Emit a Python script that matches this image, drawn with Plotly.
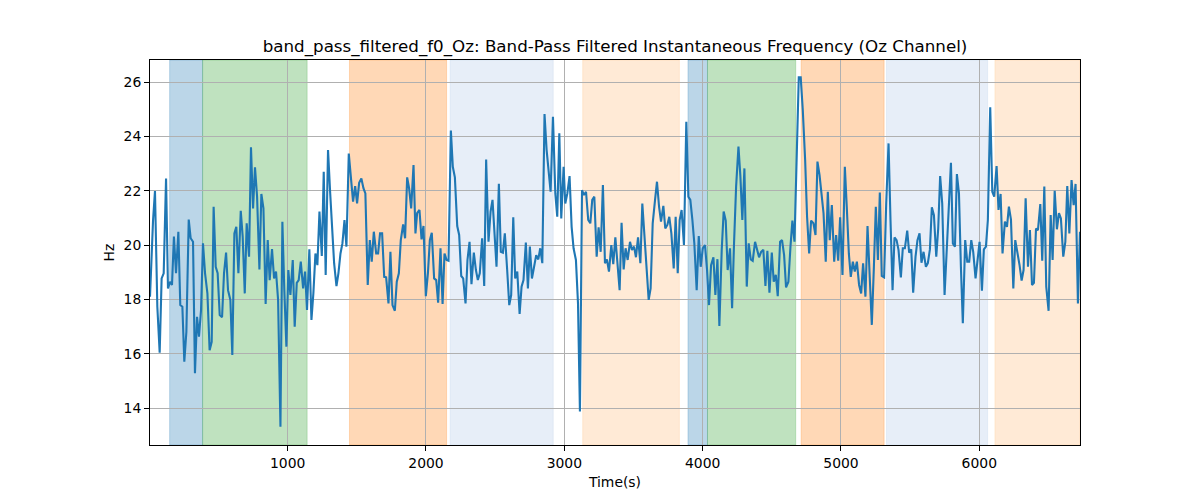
import plotly.graph_objects as go

# ---------------- data ----------------
time_s = [
    5, 27, 41, 58, 75, 89, 104, 121, 135, 150,
    164, 178, 193, 210, 224, 239, 253, 268, 285, 299,
    316, 330, 345, 359, 374, 388, 403, 420, 436, 451,
    465, 480, 494, 509, 526, 540, 555, 569, 586, 600,
    615, 629, 644, 661, 675, 690, 704, 721, 735, 750,
    764, 779, 796, 810, 825, 841, 856, 870, 887, 902,
    916, 931, 948, 962,
    976, 991, 1005, 1020, 1037, 1051, 1066, 1080, 1095, 1112,
    1126, 1140, 1157, 1172, 1186, 1201, 1215, 1230, 1247, 1261,
    1275, 1292, 1307, 1321, 1336, 1353, 1367, 1382, 1396, 1411,
    1425, 1442, 1456, 1473, 1488, 1502, 1517, 1533, 1548, 1562,
    1579, 1594, 1608, 1623, 1640, 1654, 1668, 1683, 1698, 1712,
    1729, 1743, 1758, 1775, 1789, 1804, 1818, 1835, 1849, 1864,
    1878, 1893, 1910, 1924,
    1936, 1953, 1968, 1982, 1999, 2014, 2028, 2042, 2059, 2074,
    2088, 2105, 2120, 2134, 2149, 2163, 2180, 2194, 2209, 2226,
    2240, 2255, 2269, 2286, 2300, 2315, 2329, 2346, 2361, 2375,
    2389, 2406, 2421, 2435, 2452, 2467, 2481, 2496, 2510, 2527,
    2541, 2556, 2570, 2587, 2602, 2616, 2631, 2645, 2660, 2677,
    2691, 2705, 2722, 2737, 2751, 2766, 2783, 2797, 2812, 2826,
    2841, 2857, 2872, 2886, 2901,
    2918, 2935, 2949, 2964, 2978, 2995, 3007, 3022, 3038, 3053,
    3067, 3084, 3099, 3113, 3128, 3142, 3157, 3173, 3188, 3202,
    3217, 3234, 3248, 3263, 3279, 3294, 3308, 3323, 3340, 3354,
    3369, 3383, 3400, 3414, 3429, 3443, 3458, 3475, 3489, 3504,
    3518, 3533, 3550, 3564, 3578, 3595, 3610, 3624, 3639, 3656,
    3670, 3685, 3699, 3716, 3730, 3745, 3759, 3774, 3791, 3805,
    3820, 3834, 3848,
    3865, 3882, 3897, 3911, 3926, 3940, 3957, 3972, 3986, 4001,
    4017, 4032, 4046, 4061, 4078, 4092, 4107, 4121, 4138, 4152,
    4167, 4181, 4198, 4213, 4227, 4242, 4259, 4273, 4287, 4302,
    4319, 4333, 4348, 4362, 4379, 4394, 4408, 4423, 4439, 4454,
    4468, 4483, 4500, 4514, 4529, 4543, 4560, 4574, 4589, 4603,
    4620, 4635, 4649, 4664, 4681, 4695, 4709, 4724, 4741, 4755,
    4770, 4784, 4801, 4816,
    4830, 4845, 4859, 4874, 4890, 4905, 4919, 4934, 4951, 4965,
    4980, 4994, 5011, 5028, 5042, 5057, 5071, 5086, 5100, 5115,
    5131, 5146, 5160, 5177, 5192, 5206, 5223, 5238, 5252, 5267,
    5281, 5295, 5312, 5327, 5344, 5358, 5373, 5387, 5402, 5416,
    5433, 5447, 5462, 5479, 5493, 5508, 5522, 5539, 5553, 5568,
    5582, 5597, 5614, 5628, 5643, 5657, 5672, 5689, 5703, 5717,
    5732, 5749, 5766,
    5795, 5809, 5824, 5838, 5853, 5867, 5881, 5898, 5913, 5927,
    5942, 5956, 5973, 5988, 6002, 6019, 6033, 6048, 6062, 6079,
    6094, 6108, 6125, 6139, 6154, 6168, 6185, 6200, 6214, 6229,
    6246, 6260, 6274, 6291, 6306, 6320, 6335, 6352, 6366, 6381,
    6395, 6410, 6424, 6441, 6455, 6470, 6484, 6501, 6516, 6530,
    6545, 6561, 6576, 6590, 6607, 6622, 6636, 6651, 6667, 6682,
    6696, 6713, 6728,
]

freq_hz = [
    18.10, 20.90, 21.99, 17.73, 16.04, 18.77, 18.96, 22.45, 18.40, 18.65,
    18.53, 20.31, 18.96, 20.49, 17.79, 17.73, 15.71, 16.81, 20.94, 20.25,
    20.12, 15.28, 17.36, 16.63, 17.61, 20.06, 18.96, 18.22, 16.13, 16.44,
    21.41, 19.20, 18.96, 17.42, 17.34, 18.96, 19.72, 18.34, 17.98, 15.95,
    20.43, 20.67, 18.96, 21.26, 20.31, 18.22, 20.80, 19.57, 23.60, 21.35,
    22.86, 21.78, 19.10, 21.88, 21.35, 17.83, 20.18, 18.71, 19.85, 18.77,
    19.02, 17.98, 13.31, 20.86,
    18.34, 16.26, 19.08, 18.16, 19.45, 16.99, 18.61, 18.71, 19.39, 18.40,
    19.02, 17.61, 19.84, 17.24, 18.22, 19.69, 19.26, 21.23, 19.60, 22.70,
    18.90, 23.50, 21.96, 20.80, 19.33, 18.49, 18.96, 19.69, 20.06, 20.92,
    19.94, 23.37, 22.52, 21.60, 22.17, 21.53, 22.29, 22.45, 22.09, 21.90,
    18.53, 20.18, 19.39, 20.49, 19.69, 19.69, 20.43, 20.43, 18.83, 18.81,
    17.85, 19.75, 17.79, 17.58, 18.65, 18.96, 20.18, 20.76, 20.25, 22.49,
    22.09, 21.35, 22.94, 20.43,
    21.17, 21.29, 20.21, 20.70, 18.12, 18.96, 20.18, 20.45, 18.77, 18.71,
    17.88, 19.88, 17.83, 19.69, 19.45, 19.42, 24.21, 22.88, 22.49, 20.70,
    20.37, 18.86, 18.77, 17.85, 19.45, 20.12, 18.56, 19.72, 19.08, 18.71,
    18.96, 20.25, 18.49, 23.15, 20.12, 21.23, 21.66, 20.43, 19.20, 22.25,
    19.75, 19.72, 20.43, 19.08, 17.79, 18.16, 21.02, 18.77, 19.02, 17.46,
    18.47, 18.71, 20.09, 18.40, 19.94, 18.77, 19.30, 19.63, 19.47, 19.88,
    19.33, 24.82, 23.50, 22.70, 21.96,
    24.72, 21.90, 21.04, 24.11, 20.98, 22.88, 21.53, 21.90, 22.54, 20.67,
    19.88, 19.45, 17.85, 13.87, 22.02, 21.84, 21.96, 20.92, 20.80, 21.66,
    21.78, 19.57, 20.65, 19.75, 22.21, 19.33, 19.47, 19.02, 20.00, 19.30,
    20.28, 19.33, 18.34, 20.82, 19.10, 19.88, 19.45, 20.12, 19.82, 19.94,
    19.55, 20.28, 19.33, 21.53, 20.43, 19.14, 17.98, 18.40, 20.80, 21.66,
    22.33, 21.41, 20.86, 21.44, 20.61, 20.74, 21.04, 20.43, 19.14, 21.04,
    18.96, 20.92, 21.29,
    20.00, 24.54, 21.78, 21.66, 20.92, 20.06, 18.34, 20.33, 19.20, 19.88,
    20.00, 19.08, 17.79, 19.26, 19.55, 18.16, 19.48, 17.02, 19.82, 21.23,
    20.90, 19.08, 19.88, 17.67, 20.06, 22.15, 23.62, 22.52, 20.92, 22.82,
    18.47, 20.06, 19.47, 19.42, 20.12, 19.84, 19.55, 19.75, 19.82, 18.49,
    19.79, 18.25, 19.72, 18.65, 18.90, 18.12, 20.12, 20.18, 19.63, 18.44,
    18.65, 19.94, 20.90, 20.12, 23.13, 26.17, 26.17, 24.97, 23.13, 21.04,
    19.69, 20.90, 20.80, 20.37,
    23.07, 22.58, 21.90, 21.17, 19.39, 21.96, 20.18, 21.47, 19.39, 20.37,
    19.42, 21.02, 18.90, 22.88, 21.41, 19.69, 18.83, 19.39, 19.02, 19.39,
    18.53, 18.22, 19.33, 18.10, 20.70, 18.96, 17.06, 19.20, 21.41, 19.45,
    21.93, 18.86, 18.81, 21.53, 23.74, 20.92, 18.34, 20.28, 20.18, 19.82,
    18.81, 19.88, 19.88, 20.53, 19.72, 19.84, 18.25, 19.57, 20.18, 20.43,
    19.35, 19.75, 19.20, 19.33, 19.84, 21.39, 21.10, 19.57, 20.61, 22.54,
    21.53, 18.16, 19.90,
    23.03, 20.06, 19.94, 22.61, 21.90, 19.20, 17.12, 20.18, 19.39, 19.39,
    20.18, 19.75, 18.77, 19.47, 20.12, 18.32, 19.84, 19.94, 20.92, 25.07,
    21.96, 21.78, 22.91, 21.29, 21.88, 19.69, 20.86, 20.67, 21.41, 20.94,
    18.40, 20.18, 19.82, 19.26, 18.69, 19.08, 21.72, 19.20, 20.55, 18.53,
    18.61, 20.61, 20.55, 21.51, 19.42, 22.15, 18.47, 17.58, 21.10, 19.45,
    22.00, 20.58, 21.17, 20.98, 19.57, 20.12, 22.17, 20.43, 22.39, 21.47,
    22.25, 17.85, 20.49,
]

assert len(time_s) == len(freq_hz), (len(time_s), len(freq_hz))

# shaded phases
region_start = [147, 385, 1447, 2175, 3133, 3894, 4035, 4712, 5329, 6113]
region_end = [385, 1141, 2149, 2920, 3832, 4035, 4673, 5312, 6060, 6728]
region_color = [
    "rgba(31,119,180,0.3)", "rgba(44,160,44,0.3)", "rgba(255,127,14,0.3)",
    "rgba(174,199,232,0.3)", "rgba(255,187,120,0.3)",
    "rgba(31,119,180,0.3)", "rgba(44,160,44,0.3)", "rgba(255,127,14,0.3)",
    "rgba(174,199,232,0.3)", "rgba(255,187,120,0.3)",
]

x_ticks = [1000, 2000, 3000, 4000, 5000, 6000]
y_ticks = [14, 16, 18, 20, 22, 24, 26]

title_text = "band_pass_filtered_f0_Oz: Band-Pass Filtered Instantaneous Frequency (Oz Channel)"

# ---------------- figure ----------------
FONT = "DejaVu Sans"

fig = go.Figure()
fig.add_trace(go.Scatter(
    x=time_s, y=freq_hz, mode="lines",
    line=dict(color="#1f77b4", width=2.1),
    showlegend=False, hoverinfo="x+y",
))

for s, e, c in zip(region_start, region_end, region_color):
    fig.add_shape(type="rect", xref="x", yref="paper", x0=s, x1=e, y0=0, y1=1,
                  fillcolor=c, line=dict(width=0.8, color=c), layer="below")

axis_common = dict(
    showline=True, mirror=True, linecolor="black", linewidth=1.1,
    ticks="outside", ticklen=4.9, tickwidth=1.1, tickcolor="black",
    showgrid=True, gridcolor="#b0b0b0", gridwidth=1.1, zeroline=False,
    tickfont=dict(family=FONT, size=13.9, color="black"),
)

fig.update_layout(
    width=1200, height=500,
    margin=dict(l=150, r=120, t=60, b=55),
    paper_bgcolor="white", plot_bgcolor="white",
    font=dict(family=FONT, color="black"),
    title=dict(text=title_text, x=615 / 1200, xanchor="center", xref="container",
               y=1 - 46 / 500, yanchor="middle", yref="container",
               font=dict(family=FONT, size=16.7, color="black")),
    xaxis=dict(range=[time_s[0], time_s[-1]], tickvals=x_ticks,
               title=dict(text="Time(s)", standoff=7,
                          font=dict(family=FONT, size=13.9)),
               **axis_common),
    yaxis=dict(range=[12.64, 26.81], tickvals=y_ticks,
               title=dict(text="Hz", standoff=5,
                          font=dict(family=FONT, size=13.9)),
               **axis_common),
)

fig.write_html("out.html",
               config={"displayModeBar": False},
               post_script="document.body.style.margin='0';document.body.style.padding='0';")
